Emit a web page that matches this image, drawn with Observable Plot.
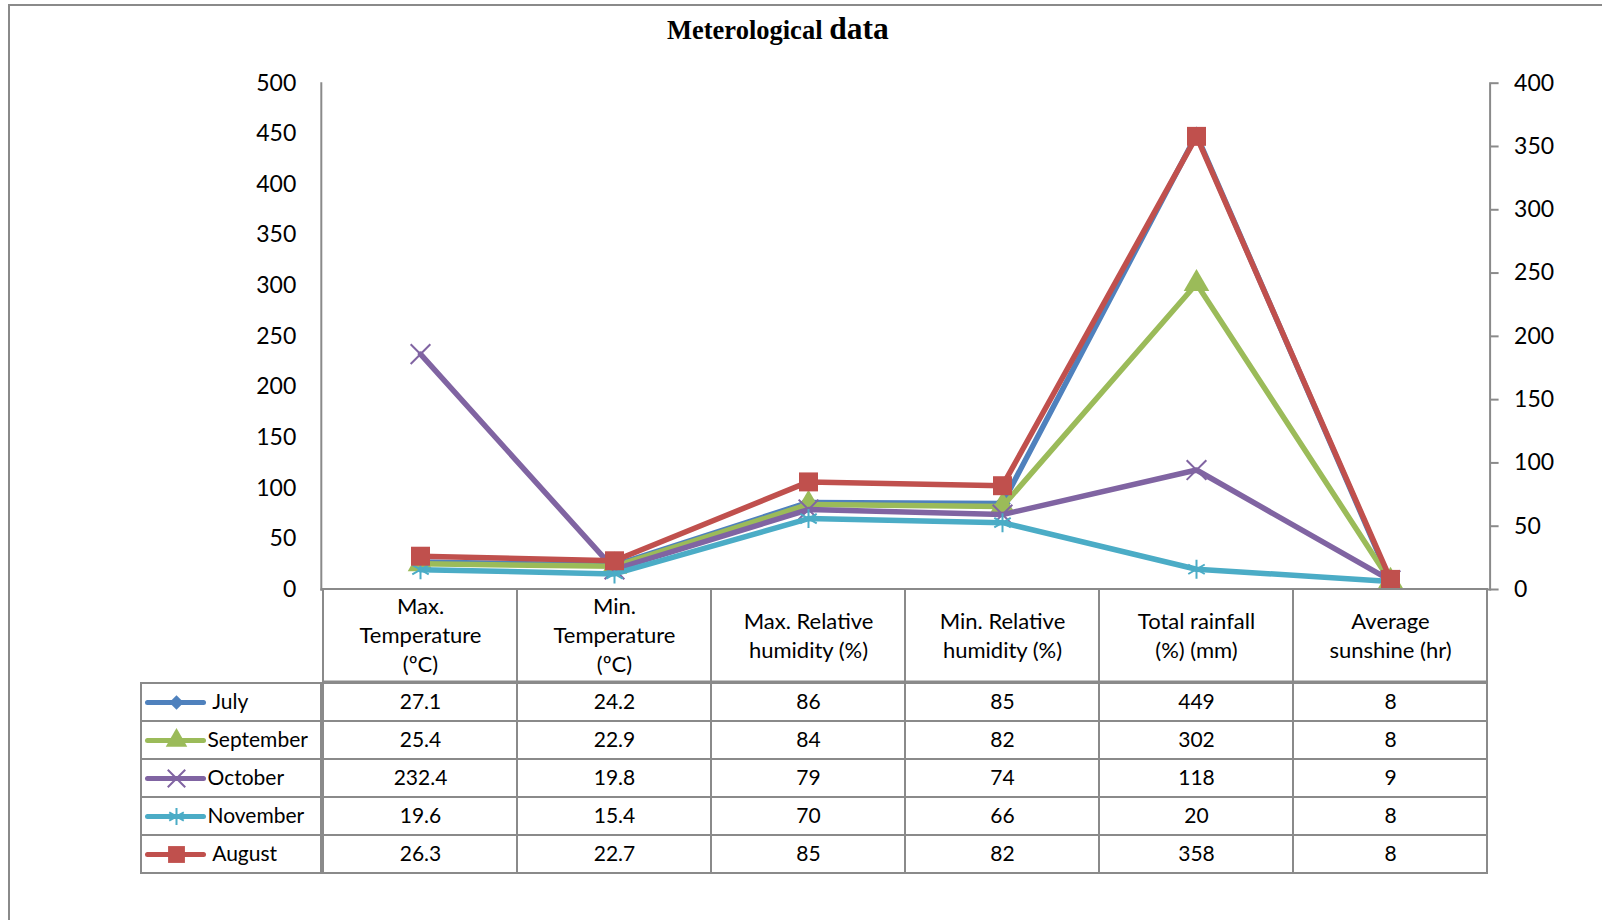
<!DOCTYPE html>
<html><head><meta charset="utf-8">
<script src="https://cdn.jsdelivr.net/npm/d3@7"></script>
<script src="https://cdn.jsdelivr.net/npm/@observablehq/plot@0.6"></script>
<style>
body{margin:0;background:#fff;}
#root{position:relative;width:1602px;height:920px;overflow:hidden;font-family:Lato,sans-serif;background:#fff;}
#root svg{position:absolute;overflow:visible;background:transparent;}
#frame{position:absolute;left:8px;top:4px;width:1700px;height:1000px;border-left:2px solid #8a8a8a;border-top:2px solid #8a8a8a;}
#title{position:absolute;left:667px;top:11px;font-family:"Liberation Serif",serif;font-weight:bold;font-size:26.5px;white-space:nowrap;color:#000;}
#title span{font-size:31.5px;}
</style></head><body><div id="root"><div id="frame"></div><div id="title">Meterological <span>data</span></div></div>
<script>
// ---- data ----
const categories = ["Max.\nTemperature\n(ºC)", "Min.\nTemperature\n(ºC)", "Max. Relative\nhumidity (%)", "Min. Relative\nhumidity (%)", "Total rainfall\n(%) (mm)", "Average\nsunshine (hr)"];
const seriesNames = ["July", "September", "October", "November", "August"];
const july = [27.1, 24.2, 86, 85, 449, 8];
const september = [25.4, 22.9, 84, 82, 302, 8];
const october = [232.4, 19.8, 79, 74, 118, 9];
const november = [19.6, 15.4, 70, 66, 20, 8];
const august = [26.3, 22.7, 85, 82, 358, 8];
const onSecondaryAxis = [false, false, false, false, true];
const leftTicks = [0, 50, 100, 150, 200, 250, 300, 350, 400, 450, 500];
const rightTicks = [0, 50, 100, 150, 200, 250, 300, 350, 400];
const seriesColors = ["#4F81BD", "#9BBB59", "#8064A2", "#4BACC6", "#C0504D"];
const seriesSymbols = ["diamond2", "triangle", "times", "asterisk", "square"];

const seriesValues = [july, september, october, november, august];
const leftMax = leftTicks[leftTicks.length - 1];
const rightMax = rightTicks[rightTicks.length - 1];
const toLeft = v => v * leftMax / rightMax;

const rows = seriesNames.flatMap((s, i) => categories.map((c, j) => ({
  series: s, category: c, value: seriesValues[i][j], secondary: onSecondaryAxis[i], idx: i
})));
const yAcc = d => d.secondary ? toLeft(d.value) : d.value;

const root = document.getElementById("root");
const W = 1602;
const mL = 320.8, mR = W - 1489.6;
const gray = "#8a8a8a";
const font = "Lato, sans-serif";

// ---- chart ----
const chartMarks = [];
seriesNames.forEach((s, i) => {
  const data = rows.filter(d => d.series === s);
  const filled = ["diamond2", "triangle", "square"].includes(seriesSymbols[i]);
  chartMarks.push(Plot.line(data, {x: "category", y: yAcc, stroke: seriesColors[i], strokeWidth: 5.5, strokeLinejoin: "round"}));
  chartMarks.push(Plot.dot(data, {
    x: "category", y: yAcc, symbol: () => seriesSymbols[i],
    r: seriesSymbols[i] === "square" ? 10.7 : seriesSymbols[i] === "triangle" ? 9.5 : seriesSymbols[i] === "diamond2" ? 7.5 : 9,
    fill: filled ? seriesColors[i] : "none",
    stroke: seriesColors[i], strokeWidth: filled ? 0 : 2
  }));
});

const chart = Plot.plot({
  width: W, height: 600,
  marginLeft: mL, marginRight: mR, marginTop: 82.7, marginBottom: 11,
  style: {fontFamily: font, background: "transparent", color: "#000"},
  x: {type: "point", domain: categories, padding: 0.5, axis: null},
  y: {domain: [0, leftMax]},
  marks: [
    Plot.axisY(leftTicks, {anchor: "left", tickSize: 0, tickPadding: 25, fontSize: 23, label: null, fill: "#000"}),
    Plot.axisY(rightTicks, {anchor: "right", y: toLeft, tickFormat: d => d, tickSize: 8, tickPadding: 16, fontSize: 23, label: null, stroke: gray, strokeWidth: 2, fill: "#000"}),
    ...chartMarks,
    Plot.frame({anchor: "left", stroke: gray, strokeWidth: 2}),
    Plot.frame({anchor: "right", stroke: gray, strokeWidth: 2}),
    Plot.frame({anchor: "bottom", stroke: gray, strokeWidth: 2})
  ]
});
chart.style.left = "0px"; chart.style.top = "0px";
root.appendChild(chart);

// ---- table header ----
const header = Plot.plot({
  width: W, height: 94.5,
  marginLeft: mL, marginRight: mR, marginTop: 1, marginBottom: 1,
  style: {fontFamily: font, background: "transparent", color: "#000"},
  x: {type: "band", domain: categories, padding: 0, axis: null},
  marks: [
    Plot.cell(categories, {x: d => d, fill: "white", stroke: gray, strokeWidth: 2}),
    Plot.text(categories, {x: d => d, text: d => d, frameAnchor: "middle", lineHeight: 1.32, fontSize: 22, dy: -2, fill: "#000"})
  ]
});
header.style.left = "0px"; header.style.top = "588px";
root.appendChild(header);

// ---- table body ----
const body = Plot.plot({
  width: W, height: 193,
  marginLeft: mL, marginRight: mR, marginTop: 1, marginBottom: 1,
  style: {fontFamily: font, background: "transparent", color: "#000"},
  x: {type: "band", domain: categories, padding: 0, axis: null},
  y: {type: "band", domain: seriesNames, padding: 0, axis: null},
  marks: [
    Plot.cell(rows, {x: "category", y: "series", fill: "white", stroke: gray, strokeWidth: 2}),
    Plot.text(rows, {x: "category", y: "series", text: d => String(d.value), fontSize: 21, fill: "#000"})
  ]
});
body.style.left = "0px"; body.style.top = "680.5px";
root.appendChild(body);

// ---- legend column ----
const legend = Plot.plot({
  width: 182, height: 193,
  marginLeft: 1, marginRight: 1, marginTop: 1, marginBottom: 1,
  style: {fontFamily: font, background: "transparent", color: "#000"},
  x: {domain: [0, 180], axis: null},
  y: {type: "band", domain: seriesNames, padding: 0, axis: null},
  marks: [
    Plot.cell(seriesNames, {y: d => d, fill: "white", stroke: gray, strokeWidth: 2}),
    Plot.link(seriesNames, {x1: 6, x2: 62, y1: d => d, y2: d => d, stroke: d => seriesColors[seriesNames.indexOf(d)], strokeWidth: 5, strokeLinecap: "round"}),
    ...seriesNames.map((s, i) => {
      const filled = ["diamond2", "triangle", "square"].includes(seriesSymbols[i]);
      return Plot.dot([s], {x: 35, y: d => d, symbol: () => seriesSymbols[i],
        r: seriesSymbols[i] === "square" ? 9.5 : seriesSymbols[i] === "diamond2" ? 6.5 : 8,
        fill: filled ? seriesColors[i] : "none", stroke: seriesColors[i], strokeWidth: filled ? 0 : 2});
    }),
    Plot.text(seriesNames, {x: 66, y: d => d, text: d => (d === "July" || d === "August") ? " " + d : d, textAnchor: "start", fontSize: 21, fill: "#000"})
  ]
});
legend.style.left = "140px"; legend.style.top = "680.5px";
root.appendChild(legend);
</script></body></html>
